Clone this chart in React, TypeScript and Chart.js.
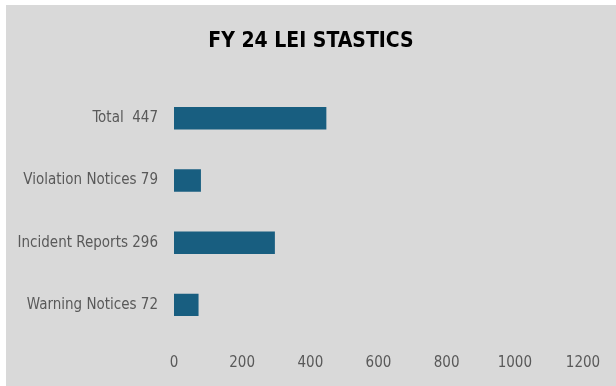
import React, { useEffect, useRef } from "react";
import { Chart, registerables } from "chart.js";

Chart.register(...registerables);

// Categories, their counts and the spacing between name and count in each label
const categoryNames = ["Total", "Violation Notices", "Incident Reports", "Warning Notices"];
const counts = [447, 79, 296, 72];
const labelGaps = ["  ", " ", " ", " "];

// Value axis
const axisMin = 0;
const axisMax = 1200;
const axisStep = 200;

const titleText = "FY 24 LEI STASTICS";

const narrowFont = "'DejaVu Sans Condensed', 'Liberation Sans Narrow', sans-serif";

export default function App() {
  const canvasRef = useRef<HTMLCanvasElement | null>(null);

  useEffect(() => {
    document.body.style.margin = "0";
    const canvas = canvasRef.current;
    if (!canvas) return;
    const labels = categoryNames.map((n, i) => `${n}${labelGaps[i]}${counts[i]}`);

    const chart = new Chart(canvas, {
      type: "bar",
      data: {
        labels,
        datasets: [
          {
            data: counts,
            backgroundColor: "#185e80",
            borderWidth: 0,
            barPercentage: 0.36,
            categoryPercentage: 1,
          },
        ],
      },
      options: {
        indexAxis: "y",
        animation: false,
        responsive: true,
        maintainAspectRatio: false,
        layout: { padding: 0 },
        plugins: {
          legend: { display: false },
          tooltip: { enabled: false },
          title: {
            display: true,
            text: titleText,
            color: "#000000",
            font: { family: narrowFont, size: 21, weight: "bold", lineHeight: 1.2 },
            padding: { top: 24, bottom: 33 },
          },
        },
        scales: {
          x: {
            min: axisMin,
            max: axisMax,
            grid: { display: false, drawTicks: false },
            border: { display: false },
            ticks: {
              stepSize: axisStep,
              color: "#595959",
              padding: 18,
              maxRotation: 0,
              font: { family: narrowFont, size: 15 },
              callback: (v: any) => String(v),
            },
            afterFit: (scale: any) => {
              scale.height = 50;
              scale.paddingRight = 33;
            },
          },
          y: {
            grid: { display: false, drawTicks: false },
            border: { display: false },
            ticks: {
              color: "#595959",
              padding: 16,
              font: { family: narrowFont, size: 15 },
            },
            afterFit: (scale: any) => {
              scale.width = 168;
            },
          },
        },
      },
    });

    return () => chart.destroy();
  }, []);

  return (
    <div
      style={{
        position: "fixed",
        left: 6,
        top: 5,
        width: 610,
        height: 381,
        background: "#d9d9d9",
      }}
    >
      <canvas ref={canvasRef} />
    </div>
  );
}
